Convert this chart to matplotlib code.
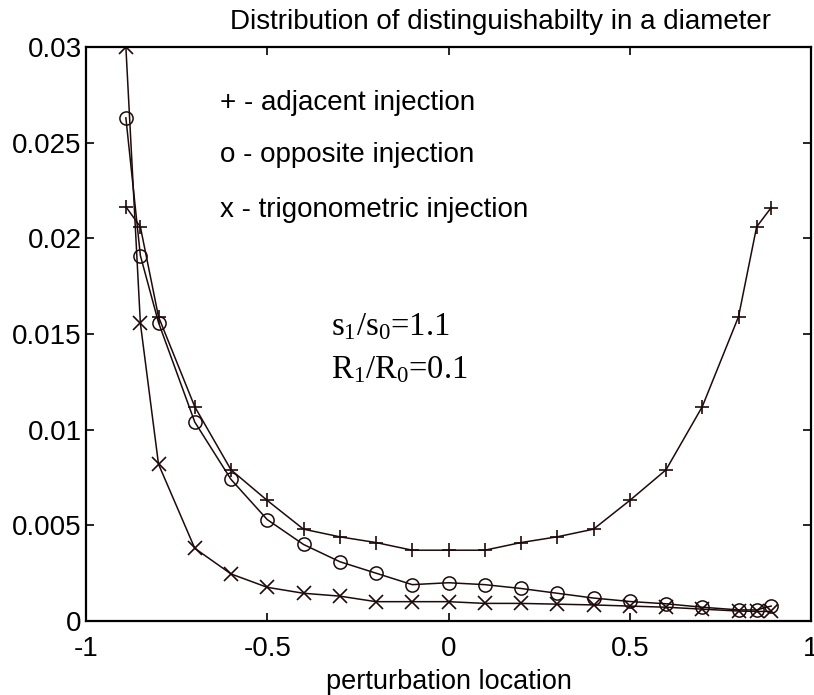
import matplotlib as mpl
mpl.use('Agg')
import matplotlib.pyplot as plt
import numpy as np

mpl.rcParams['font.family'] = ['Liberation Sans', 'DejaVu Sans']
mpl.rcParams['mathtext.fontset'] = 'custom'
mpl.rcParams['mathtext.rm'] = 'Liberation Serif'
mpl.rcParams['mathtext.it'] = 'Liberation Serif'

# perturbation locations along the diameter
location = [-0.89, -0.85, -0.8, -0.7, -0.6, -0.5, -0.4, -0.3, -0.2, -0.1, 0.0,
            0.1, 0.2, 0.3, 0.4, 0.5, 0.6, 0.7, 0.8, 0.85, 0.89]

adjacent = [0.02165, 0.0206, 0.0159, 0.0112, 0.0079, 0.0063, 0.0048, 0.0044, 0.0041, 0.0037, 0.0037,
            0.0037, 0.0041, 0.0044, 0.0048, 0.0063, 0.0079, 0.0112, 0.0159, 0.0206, 0.0216]
opposite = [0.0263, 0.0191, 0.0156, 0.0104, 0.0074, 0.0053, 0.0040, 0.0031, 0.0025, 0.0019, 0.0020,
            0.0019, 0.0017, 0.00145, 0.0012, 0.00102, 0.0009, 0.00072, 0.00058, 0.00058, 0.00078]
trigonometric = [0.0300, 0.01556, 0.0082, 0.0038, 0.00246, 0.00176, 0.00145, 0.0013, 0.00101, 0.00101, 0.00101,
                 0.00092, 0.00092, 0.00088, 0.00084, 0.00078, 0.00072, 0.00062, 0.00052, 0.0005, 0.0005]

col = '#1e0a0a'

fig = plt.figure(figsize=(8.14, 6.95), dpi=100)
ax = fig.add_axes([86 / 814, 74 / 695, 725 / 814, 574 / 695])

ax.plot(location, adjacent, color=col, lw=1.1, marker='+', ms=10.5, mew=1.2)
ax.plot(location, opposite, color=col, lw=1.1, marker='o', ms=9.5, mew=1.1, mfc='none')
ax.plot(location, trigonometric, color=col, lw=1.1, marker='x', ms=10, mew=1.2)

ax.set_xlim(-1, 1)
ax.set_ylim(0, 0.03)
ax.set_xticks([-1, -0.5, 0, 0.5, 1])
ax.set_xticklabels(['-1', '-0.5', '0', '0.5', '1'])
ax.set_yticks([0, 0.005, 0.01, 0.015, 0.02, 0.025, 0.03])
ax.set_yticklabels(['0', '0.005', '0.01', '0.015', '0.02', '0.025', '0.03'])
ax.tick_params(direction='in', length=6, width=1.2, labelsize=20, top=True, right=True)
ax.tick_params(axis='x', pad=11)
ax.tick_params(axis='y', pad=3)
for s in ax.spines.values():
    s.set_linewidth(1.6)

ax.set_xlabel('perturbation location', fontsize=19.5, labelpad=5)
fig.text(500 / 814, 1 - 22 / 695, 'Distribution of distinguishabilty in a diameter',
         ha='center', va='center', fontsize=20)

ax.text(-0.631, 0.02707, '+ - adjacent injection', fontsize=20, va='center', ha='left')
ax.text(-0.631, 0.02435, 'o - opposite injection', fontsize=20, va='center', ha='left')
ax.text(-0.631, 0.02148, 'x - trigonometric injection', fontsize=20, va='center', ha='left')

ax.text(-0.325, 0.01536, r'$\mathregular{s_1/s_0}$=1.1', fontsize=23.5, va='center', ha='left',
        family='Liberation Serif')
ax.text(-0.325, 0.01312, r'$\mathregular{R_1/R_0}$=0.1', fontsize=23.5, va='center', ha='left',
        family='Liberation Serif')

fig.savefig('out.png', dpi=100)
